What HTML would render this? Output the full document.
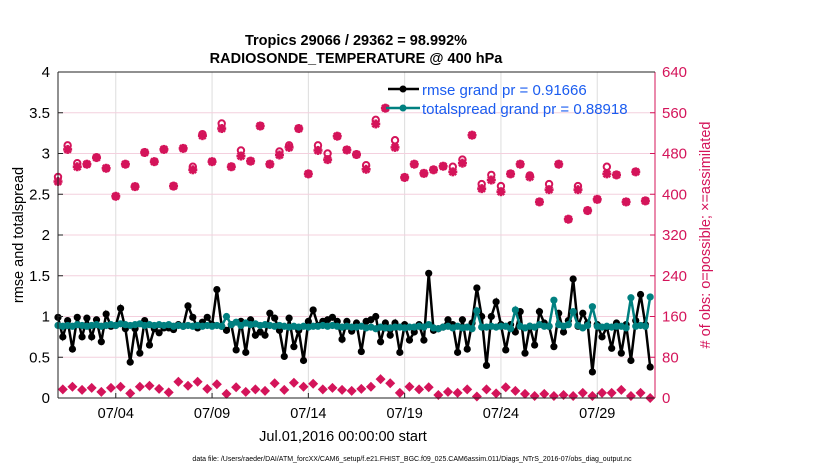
<!DOCTYPE html>
<html><head><meta charset="utf-8"><style>
body{margin:0;background:#fff;}
svg text{font-family:"Liberation Sans",sans-serif;}
</style></head><body>
<svg id="chart" width="830" height="470" xmlns="http://www.w3.org/2000/svg">
<rect width="830" height="470" fill="#fff"/>
<g id="grid"></g>
<g id="marks"></g>
<g id="axes"></g>
<text x="356" y="45" text-anchor="middle" font-size="14.5" font-weight="bold">Tropics 29066 / 29362 = 98.992%</text>
<text x="356" y="63" text-anchor="middle" font-size="14.5" font-weight="bold">RADIOSONDE_TEMPERATURE @ 400 hPa</text>
<text transform="translate(23,235) rotate(-90)" text-anchor="middle" font-size="14.5">rmse and totalspread</text>
<text transform="translate(710,235) rotate(-90)" text-anchor="middle" font-size="14.5" fill="#d4145a">#  of obs: o=possible; ×=assimilated</text>
<text x="343" y="441" text-anchor="middle" font-size="14.5">Jul.01,2016 00:00:00 start</text>
<text x="412" y="461" text-anchor="middle" font-size="7">data file: /Users/raeder/DAI/ATM_forcXX/CAM6_setup/f.e21.FHIST_BGC.f09_025.CAM6assim.011/Diags_NTrS_2016-07/obs_diag_output.nc</text>
<g id="legend"></g>
</svg>
<script>
const xTickLabels=["07/04","07/09","07/14","07/19","07/24","07/29"];
const xTickDays=[3,8,13,18,23,28];
const yLeftTicks=["0","0.5","1","1.5","2","2.5","3","3.5","4"];
const yRightTicks=["0","80","160","240","320","400","480","560","640"];
const rmse=[0.99,0.75,0.95,0.6,0.99,0.75,0.98,0.75,0.96,0.69,1.03,0.88,0.89,1.1,0.85,0.44,0.85,0.55,0.95,0.65,0.85,0.8,0.86,0.86,0.84,0.9,0.88,1.13,0.99,0.86,0.93,0.99,
0.9,1.33,0.88,0.83,0.9,0.59,0.94,0.56,0.96,0.77,0.81,0.77,1.04,0.98,0.83,0.51,0.98,0.63,0.83,0.46,0.94,1.08,0.89,0.94,0.96,0.99,0.94,0.72,0.94,0.82,
0.92,0.57,0.94,0.96,1.0,0.69,0.92,0.77,0.92,0.56,0.9,0.71,0.81,0.9,0.71,1.53,0.83,0.85,0.87,0.96,0.9,0.56,0.96,0.6,0.92,1.35,1.0,0.4,1.0,1.18,0.9,
0.59,0.9,0.81,1.06,0.55,0.88,0.65,1.06,0.92,0.88,0.63,1.04,0.81,0.95,1.46,0.88,1.04,0.92,0.32,0.9,0.75,0.87,0.61,0.92,0.55,0.9,0.46,0.95,1.27,0.9,0.38];
const spread=[0.89,0.88,0.89,0.88,0.9,0.89,0.88,0.89,0.9,0.88,0.89,0.9,0.89,0.91,0.9,0.89,0.9,0.91,0.89,0.9,0.89,0.9,0.89,0.9,0.88,0.89,0.88,0.89,0.88,0.89,0.88,0.89,
0.88,0.89,0.88,1.0,0.9,0.93,0.89,0.92,0.9,0.91,0.89,0.9,0.89,0.88,0.89,0.88,0.87,0.88,0.87,0.88,0.87,0.88,0.88,0.89,0.88,0.89,0.88,0.87,0.88,0.87,
0.87,0.88,0.86,0.87,0.85,0.87,0.86,0.86,0.87,0.87,0.86,0.87,0.87,0.88,0.87,0.9,0.86,0.85,0.87,0.88,0.86,0.88,0.86,0.87,0.85,1.07,0.87,0.87,0.88,0.87,0.88,
0.88,0.85,1.08,0.88,0.86,0.88,0.87,0.9,0.88,0.88,1.2,0.9,0.88,0.9,1.06,0.89,0.86,0.89,1.12,0.88,0.87,0.88,0.87,0.88,0.88,0.86,1.23,0.88,0.89,0.88,1.24];
const possibleHi=[434,496,461,459,472,451,396,459,415,482,464,488,416,490,454,518,464,539,454,486,465,534,459,484,496,529,440,496,480,514,487,478,457,546,569,506,433,459,441,448,455,454,468,516,420,438,416,440,459,437,385,420,459,351,416,368,390,454,438,385,444,387];
const assimHi=[425,488,454,459,472,451,396,459,415,482,464,488,416,490,448,515,464,529,454,475,465,534,459,477,492,529,440,486,468,514,487,478,449,538,569,492,433,459,441,448,455,444,461,516,411,428,405,440,459,434,385,409,459,351,409,368,390,440,438,385,444,387];
const countLo=[17,22,16,20,12,20,22,9,22,24,18,11,32,24,32,18,27,8,21,12,17,14,29,16,30,22,28,17,20,16,14,
18,22,37,29,10,22,17,21,6,12,10,17,3,17,9,21,14,8,4,8,4,6,4,10,4,10,10,16,4,10,0];
const X0=58,X1=655,Y0=398,Y1=72,NDAYS=31,YMAX=4,RMAX=640;
function xs(day){return X0+(X1-X0)*day/NDAYS;}
function ys(v){return Y0-(Y0-Y1)*v/YMAX;}
function yr(c){return Y0-(Y0-Y1)*c/RMAX;}
const NS="http://www.w3.org/2000/svg";
function mk(tag,attrs,parent){const e=document.createElementNS(NS,tag);for(const k in attrs)e.setAttribute(k,attrs[k]);parent.appendChild(e);return e;}
const grid=document.getElementById('grid'),marks=document.getElementById('marks'),axes=document.getElementById('axes'),legend=document.getElementById('legend');
xTickDays.forEach((d,i)=>{
  const l=mk('line',{x1:xs(d),x2:xs(d),y1:Y1,y2:Y0,stroke:'#dcdcdc','stroke-width':1},grid);
  
  
  const t=mk('text',{x:xs(d),y:418,'text-anchor':'middle','font-size':14.5},axes);
  t.textContent=xTickLabels[i];
  
  
  const tk=mk('line',{x1:xs(d),x2:xs(d),y1:Y0,y2:Y0-5,stroke:'#222'},axes);
  
  
});
yLeftTicks.forEach((lab,i)=>{
  const v=i*0.5,y=ys(v);
  if(i>0&&i<yLeftTicks.length-1){const g=mk('line',{x1:X0,x2:X1,y1:y,y2:y,stroke:'#f4d0de','stroke-width':1},grid);
  
  }
  const t=mk('text',{x:50,y:y+5,'text-anchor':'end','font-size':15},axes);
  t.textContent=lab;
  
  
  const t2=mk('text',{x:662,y:y+5,'font-size':15,fill:'#d4145a'},axes);
  t2.textContent=yRightTicks[i];
  
  
  mk('line',{x1:X1,x2:X1-5,y1:y,y2:y,stroke:'#d4145a'},axes);
  mk('line',{x1:X0,x2:X0+5,y1:y,y2:y,stroke:'#222'},axes);
});
const la=mk('line',{x1:X0,x2:X0,y1:Y1,y2:Y0,stroke:'#222'},axes);


const ba=mk('line',{x1:X0,x2:X1,y1:Y0,y2:Y0,stroke:'#222'},axes);


const ra=mk('line',{x1:X1,x2:X1,y1:Y1,y2:Y0,stroke:'#d4145a'},axes);


const ta=mk('line',{x1:X0,x2:X1,y1:Y1,y2:Y1,stroke:'#222'},axes);


function star(cx,cy,parent){
  const g=mk('g',{stroke:'#d4145a','stroke-width':2.6},parent);
  mk('line',{x1:cx-4.5,x2:cx+4.5,y1:cy,y2:cy},g);mk('line',{x1:cx,x2:cx,y1:cy-4.5,y2:cy+4.5},g);
  mk('line',{x1:cx-3.3,x2:cx+3.3,y1:cy-3.3,y2:cy+3.3},g);mk('line',{x1:cx-3.3,x2:cx+3.3,y1:cy+3.3,y2:cy-3.3},g);
  return g;
}
possibleHi.forEach((c,j)=>{
  const x=xs(j*0.5);
  const s=star(x,yr(assimHi[j]),marks);
  
  
  const o=mk('circle',{cx:x,cy:yr(c),r:3.2,fill:'none',stroke:'#d4145a','stroke-width':2},marks);
  
  
});
countLo.forEach((c,j)=>{
  const x=xs(j*0.5+0.25),y=yr(c);
  const d=mk('path',{d:`M${x-5},${y}L${x},${y-5}L${x+5},${y}L${x},${y+5}Z`,fill:'#d4145a'},marks);
  
  
});
function series(arr,color,name){
  const pts=arr.map((v,i)=>[xs(i*0.25),ys(v)]);
  const p=mk('polyline',{points:pts.map(p=>p.join(',')).join(' '),fill:'none',stroke:color,'stroke-width':2.5},marks);
  
  
  pts.forEach(pt=>{
    const c=mk('circle',{cx:pt[0],cy:pt[1],r:3.6,fill:color},marks);
    
    
  });
}
series(rmse,'#000','rmse');
series(spread,'#008080','totalspread');
mk('line',{x1:388,y1:89,x2:419,y2:89,stroke:'#000','stroke-width':2.5},legend);
mk('circle',{cx:403,cy:89,r:3.5,fill:'#000'},legend);
const lt1=mk('text',{x:422,y:95,'font-size':15,fill:'#1a5cf0'},legend);
lt1.textContent='rmse grand pr = 0.91666';


mk('line',{x1:386,y1:108,x2:420,y2:108,stroke:'#008080','stroke-width':2.5},legend);
mk('circle',{cx:403,cy:108,r:3.5,fill:'#008080'},legend);
const lt2=mk('text',{x:422,y:114,'font-size':15,fill:'#1a5cf0'},legend);
lt2.textContent='totalspread grand pr = 0.88918';


</script>
</body></html>
